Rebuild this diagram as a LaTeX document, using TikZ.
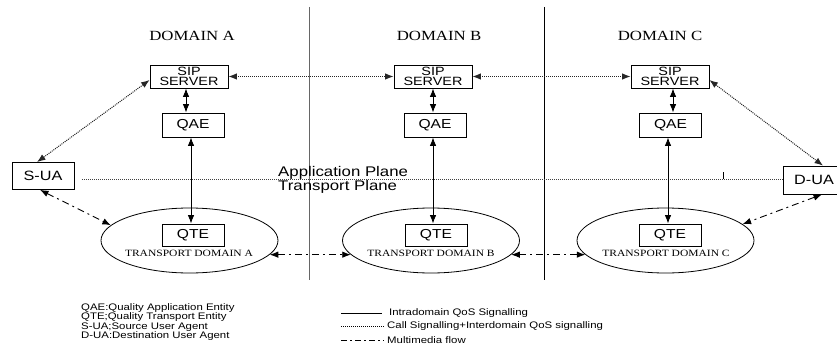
\documentclass[tikz,border=0pt]{standalone}
\usepackage{fontspec}
\setmainfont{Liberation Serif}
\newfontfamily\rmx[FakeStretch=1.2]{Liberation Serif}
\newfontfamily\sfx[FakeStretch=1.2]{Liberation Sans}
\usetikzlibrary{arrows.meta,shapes.geometric}
\tikzset{
  box/.style={draw, line width=0.8pt, inner sep=0pt, align=center, fill=white},
  sipbox/.style={box, minimum width=78pt, minimum height=23pt, font=\sfx\fontsize{12}{10.5}\selectfont},
  ebox/.style={box, minimum width=62pt, minimum height=24pt, font=\sfx\fontsize{13}{13}\selectfont},
  uabox/.style={box, minimum width=62pt, minimum height=27pt, font=\sfx\fontsize{13.5}{13.5}\selectfont},
  tdom/.style={draw, ellipse, line width=0.8pt, minimum width=177pt, minimum height=65pt, inner sep=0pt},
  domlabel/.style={font=\rmx\fontsize{14}{14}\selectfont, inner sep=0pt},
  tdlabel/.style={font=\rmx\fontsize{9.6}{9.6}\selectfont, inner sep=0pt},
  bi/.style={{Latex[length=8.5pt,width=6.5pt]}-{Latex[length=8.5pt,width=6.5pt]}},
  intra/.style={line width=0.9pt, bi},
  sig/.style={draw=black!85, line width=1pt, dash pattern=on 1pt off 1pt, bi},
  media/.style={line width=0.9pt, dash pattern=on 7pt off 4pt on 2pt off 4pt, bi},
  legtext/.style={font=\sfx\fontsize{9.5}{9.7}\selectfont, inner sep=0pt, anchor=west},
  planetext/.style={font=\sfx\fontsize{14}{14}\selectfont, inner sep=0pt, anchor=base west}
}
\begin{document}
\begin{tikzpicture}[x=1pt,y=-1pt]
\clip (0,0) rectangle (837,345);
\fill[white] (0,0) rectangle (837,345);

% domain separators
\draw[line width=1.8pt, draw=black!60] (309.5,7) -- (309.5,280);
\draw[line width=1pt] (544,7) -- (544,280);

% domain titles
\node[domlabel] (tA) at (192,36) {DOMAIN A};
\node[domlabel] (tB) at (439,36) {DOMAIN B};
\node[domlabel] (tC) at (660,36) {DOMAIN C};

% application / transport plane
\coordinate (apL) at (82,179);
\node[planetext] (apl) at (278,176) {Application Plane};
\node[planetext] (tpl) at (278,190) {Transport Plane};

% ellipses
\node[tdom] (ellA) at (189.5,240.5) {};
\node[tdom] (ellB) at (431,240.5) {};
\node[tdom] (ellC) at (665.5,240.5) {};
\node[tdlabel] (tdA) at (189,253) {TRANSPORT DOMAIN A};
\node[tdlabel] (tdB) at (431,253) {TRANSPORT DOMAIN B};
\node[tdlabel] (tdC) at (666,253) {TRANSPORT DOMAIN C};

% SIP servers
\node[sipbox] (sipA) at (189,76.5) {SIP\\SERVER};
\node[sipbox] (sipB) at (433,76.5) {SIP\\SERVER};
\node[sipbox] (sipC) at (670,76.5) {SIP\\SERVER};

% QAE
\node[ebox] (qaeA) at (193,125) {QAE};
\node[ebox] (qaeB) at (435,125) {QAE};
\node[ebox] (qaeC) at (670.5,125) {QAE};

% QTE
\node[ebox, minimum height=22pt] (qteA) at (193,235) {QTE};
\node[ebox, minimum height=22pt] (qteB) at (436,235) {QTE};
\node[ebox, minimum height=22pt] (qteC) at (670,235) {QTE};

% user agents
\node[uabox] (sua) at (43,176) {S-UA};
\node[uabox, minimum height=28pt] (dua) at (814,180) {D-UA};

% plane line
\draw[draw=black!75, line width=1pt, dash pattern=on 1pt off 1pt] (apL) -- (dua.west |- apL);
\draw[line width=0.8pt] (723,172) -- (723,179);

% call signalling
\draw[sig] (sipA.east) -- (sipB.west);
\draw[sig] (sipB.east) -- (sipC.west);
\draw[sig] ([yshift=-3.5pt]sipA.west) -- ([xshift=-6pt]sua.north);
\draw[sig] ([yshift=-3.5pt]sipC.east) -- ([xshift=9pt]dua.north);

% intradomain QoS signalling
\draw[intra] ([xshift=-3pt]sipA.south) -- ([xshift=-7pt]qaeA.north);
\draw[intra] ([xshift=-2pt]qaeA.south) -- ([xshift=-2pt]qteA.north);
\draw[intra] (sipB.south) -- ([xshift=-2pt]qaeB.north);
\draw[intra] ([xshift=-2pt]qaeB.south) -- ([xshift=-3pt]qteB.north);
\draw[intra] ([xshift=3pt]sipC.south) -- ([xshift=2.5pt]qaeC.north);
\draw[intra] ([xshift=-2.5pt]qaeC.south) -- ([xshift=-2pt]qteC.north);

% multimedia flow
\draw[media] ([xshift=-3pt]sua.south) -- (ellA.169);
\draw[media] (ellA.-10) -- (ellB.190);
\draw[media] (ellB.-10) -- (ellC.190);
\draw[media] ([xshift=8pt]dua.south) -- (ellC.12);

% legend left
\node[legtext] (l1) at (81,308) {QAE:Quality Application Entity};
\node[legtext] (l2) at (81,317.5) {QTE;Quality Transport Entity};
\node[legtext] (l3) at (81,327) {S-UA;Source User Agent};
\node[legtext] (l4) at (81,336.5) {D-UA:Destination User Agent};

% legend right
\coordinate (k1) at (341,313);
\coordinate (k2) at (341,326);
\coordinate (k3) at (341,340);
\node[legtext] (r1) at (389,313) {Intradomain QoS Signalling};
\node[legtext] (r2) at (387,326) {Call Signalling+Interdomain QoS signalling};
\node[legtext] (r3) at (387,340) {Multimedia flow};
\draw[line width=0.8pt] (k1) -- ([xshift=-7pt]r1.west);
\draw[line width=0.8pt, dash pattern=on 1pt off 1pt] (k2) -- ([xshift=-3pt]r2.west);
\draw[line width=0.8pt, dash pattern=on 6pt off 3pt on 2pt off 3pt] (k3) -- ([xshift=-3pt]r3.west);
\end{tikzpicture}
\end{document}
